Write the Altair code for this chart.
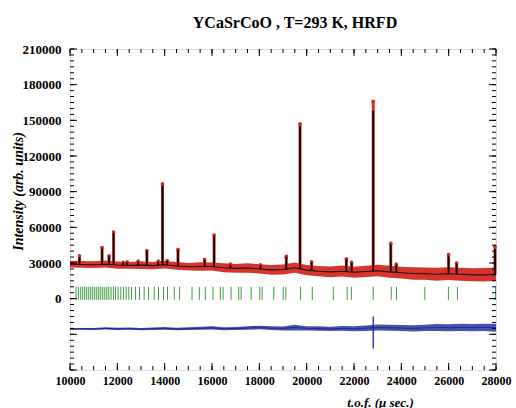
import altair as alt
import pandas as pd

# ---------------- data ----------------
bg_t = [10000, 10500, 11000, 11500, 12000, 12500, 13000, 13500, 14000, 14500,
        15000, 15500, 16000, 16500, 17000, 17500, 18000, 18500, 19000, 19500,
        20000, 20500, 21000, 21500, 22000, 22500, 23000, 23500, 24000, 24500,
        25000, 25500, 26000, 26500, 27000, 27500, 28000]
bg_calc = [29000, 28800, 28500, 29000, 28300, 28000, 28200, 27800, 28500, 27500,
           26800, 27000, 27000, 26000, 25500, 25800, 25000, 24200, 24500, 26000,
           24000, 23000, 22500, 23000, 22200, 22800, 23500, 22500, 21800, 21200,
           21000, 20500, 21000, 20500, 20000, 20000, 20500]
obs_lo = [26300, 25900, 25800, 26200, 25200, 25100, 25000, 24800, 25300, 24300,
          23600, 23500, 23600, 22300, 21900, 21800, 21200, 20200, 20400, 21800,
          19800, 18800, 18000, 18600, 17500, 18200, 18800, 17500, 16900, 16000,
          15900, 15100, 15800, 15000, 14700, 14400, 15000]
obs_hi = [31900, 31600, 31400, 32100, 31300, 30900, 31400, 30800, 31800, 30900,
          30100, 30600, 30400, 29700, 29200, 29800, 28900, 28300, 28700, 30400,
          28400, 27400, 27100, 27800, 26900, 27600, 28500, 27600, 26800, 26400,
          26300, 25900, 26500, 26000, 25500, 25700, 26200]

peak_t = [10400, 11355, 11650, 11842, 12245, 12414, 12880, 13249, 13727, 13909,
          14108, 14562, 15688, 16090, 16777, 18047, 19140, 19720, 20207, 21677,
          21901, 22813, 23553, 23786, 25997, 26336, 27958]
peak_obs = [36000, 43000, 36000, 56000, 30500, 31000, 31500, 40500, 31500, 96500,
            32000, 41500, 33000, 53500, 29000, 28500, 35500, 147000, 31000, 33500,
            30500, 166000, 46500, 29000, 37000, 30000, 44000]
peak_calc = [35000, 42000, 35500, 55000, 30500, 30500, 31000, 40000, 31000, 95000,
             31500, 41000, 32500, 52500, 28500, 28000, 35000, 145000, 30500, 33000,
             30000, 158000, 45500, 28500, 36000, 29500, 42000]
peak_base = [28900, 29000, 28800, 28600, 28200, 28000, 28100, 28000, 28100, 28200,
             28300, 27700, 27000, 27000, 25800, 25000, 24400, 25400, 23500, 22800,
             22500, 22600, 22800, 22200, 21000, 20800, 20300]

refl_t = [10254, 10352, 10453, 10538, 10623, 10707, 10792, 10877, 10962, 11046,
          11131, 11216, 11300, 11385, 11470, 11554, 11639, 11737, 11834, 11919,
          12033, 12147, 12258, 12372, 12486, 12596, 12766, 12935, 13134, 13316,
          13558, 13740, 13952, 14121, 14405, 14629, 15155, 15464, 15718, 16044,
          16353, 16468, 16806, 17128, 17230, 17654, 18018, 18120, 18611, 19009,
          19119, 19742, 20237, 21127, 21711, 21889, 22813, 23575, 23795, 24994,
          25989, 26370, 27980]

diff_mid = [-25500, -25300, -25500, -25000, -25400, -25200, -25600, -25300, -25000, -25400,
            -25200, -25000, -24600, -25300, -25000, -24700, -24300, -24800, -25000, -24200,
            -25000, -25200, -25400, -25000, -25300, -24800, -24300, -24500, -24700, -25000,
            -24600, -24300, -24500, -24200, -24400, -24000, -24500]
diff_lo = [-26300, -26100, -26400, -26000, -26300, -26200, -26600, -26300, -26200, -26500,
           -26400, -26200, -25900, -26600, -26300, -26100, -25800, -26400, -26700, -26800,
           -26800, -27000, -27100, -27000, -27400, -27300, -26700, -27000, -27200, -27600,
           -27300, -27100, -27400, -27100, -27500, -27200, -27800]
diff_hi = [-24800, -24600, -24700, -24100, -24500, -24300, -24600, -24200, -23800, -24400,
           -24100, -23700, -23200, -24100, -23800, -23300, -22700, -23200, -23400, -22000,
           -23200, -23300, -23600, -23000, -23200, -22500, -21800, -22000, -22200, -22400,
           -21900, -21400, -21600, -21200, -21400, -21000, -21200]
spike_t = [22813]
spike_lo = [-42000]
spike_hi = [-15000]

x_labels = [10000, 12000, 14000, 16000, 18000, 20000, 22000, 24000, 26000, 28000]
x_minor = list(range(10000, 28001, 500))
y_labels = [0, 30000, 60000, 90000, 120000, 150000, 180000, 210000]
y_major = list(range(-60000, 210001, 30000))
y_minor = list(range(-60000, 210001, 5000))

# ---------------- chart ----------------
W, H = 426, 321
FONT = "Liberation Serif"
RED = "#d42a22"
BLUE = "#1c2896"
GREEN = "#3f9a3f"

x_scale = alt.Scale(domain=[10000, 28000], nice=False, zero=False)
y_scale = alt.Scale(domain=[-60000, 210000], nice=False, zero=False)

x_axis = alt.Axis(values=x_labels, format="d", ticks=False, domain=False, grid=False,
                  labelFont=FONT, labelFontSize=12, labelFontWeight="bold",
                  labelColor="black", labelPadding=5, labelOverlap=False,
                  labelBound=False, labelFlush=False,
                  title="t.o.f. (\u03bc sec.)", titleFont=FONT, titleFontSize=13,
                  titleFontStyle="italic", titleFontWeight="bold", titleColor="black",
                  titleX=310, titleY=36, titleAlign="center", titleBaseline="alphabetic")
y_axis = alt.Axis(values=y_labels, format="d", ticks=False, domain=False, grid=False,
                  labelFont=FONT, labelFontSize=13, labelFontWeight="bold",
                  labelColor="black", labelPadding=9, labelOverlap=False,
                  title="Intensity (arb. units)", titleFont=FONT, titleFontSize=14,
                  titleFontStyle="italic", titleFontWeight="bold", titleColor="black",
                  titleX=-52, titleY=142, titleAngle=270, titleAlign="center",
                  titleBaseline="middle")

X = lambda f: alt.X(f, type="quantitative", scale=x_scale, axis=x_axis)
Y = lambda f: alt.Y(f, type="quantitative", scale=y_scale, axis=y_axis)

df_bg = pd.DataFrame({"t": bg_t, "calc": bg_calc, "lo": obs_lo, "hi": obs_hi,
                      "dmid": diff_mid, "dlo": diff_lo, "dhi": diff_hi})
df_pk = pd.DataFrame({"t": peak_t, "obs": peak_obs, "calc": peak_calc, "base": peak_base})
df_refl = pd.DataFrame({"t": refl_t})
df_spike = pd.DataFrame({"t": spike_t, "lo": spike_lo, "hi": spike_hi})

obs_band = alt.Chart(df_bg).mark_area(color=RED, opacity=0.95).encode(
    x=X("t"), y=Y("lo"), y2="hi")
obs_peaks = alt.Chart(df_pk).mark_rule(color=RED, strokeWidth=3).encode(
    x=X("t"), y=Y("base"), y2="obs")
obs_tops = alt.Chart(df_pk).mark_circle(color=RED, size=14, opacity=1).encode(
    x=X("t"), y=Y("obs"))
calc_line = alt.Chart(df_bg).mark_line(color="#2a0a0a", strokeWidth=1.1).encode(
    x=X("t"), y=Y("calc"))
calc_peaks = alt.Chart(df_pk).mark_rule(color="black", strokeWidth=1.7).encode(
    x=X("t"), y=Y("base"), y2="calc")
refl = alt.Chart(df_refl).mark_rule(color=GREEN, strokeWidth=1).encode(
    x=X("t"), y=alt.YDatum(-1000, scale=y_scale, axis=y_axis), y2=alt.datum(10000))
diff_band = alt.Chart(df_bg).mark_area(color=BLUE, opacity=0.8).encode(
    x=X("t"), y=Y("dlo"), y2="dhi")
diff_line = alt.Chart(df_bg).mark_line(color=BLUE, strokeWidth=1).encode(
    x=X("t"), y=Y("dmid"))
diff_spike = alt.Chart(df_spike).mark_rule(color=BLUE, strokeWidth=1.3).encode(
    x=X("t"), y=Y("lo"), y2="hi")


def ytick(vals, length, side):
    d = pd.DataFrame({"v": vals})
    x0 = 0 if side == "left" else W
    x1 = length if side == "left" else W - length
    return alt.Chart(d).mark_rule(color="black", strokeWidth=1).encode(
        y=Y("v"), x=alt.value(x0), x2=alt.value(x1))


def xtick(vals, length, side):
    d = pd.DataFrame({"v": vals})
    y0 = H if side == "bottom" else 0
    y1 = H - length if side == "bottom" else length
    return alt.Chart(d).mark_rule(color="black", strokeWidth=1).encode(
        x=X("v"), y=alt.value(y0), y2=alt.value(y1))


ticks = [ytick(y_minor, 4, "left"), ytick(y_major, 7, "left"),
         ytick(y_minor, 4, "right"), ytick(y_major, 7, "right"),
         xtick(x_minor, 4, "bottom"), xtick(x_labels, 7, "bottom"),
         xtick(x_minor, 4, "top"), xtick(x_labels, 7, "top")]

chart = alt.layer(
    obs_band, obs_peaks, obs_tops, calc_line, calc_peaks, refl,
    diff_band, diff_line, diff_spike, *ticks
).properties(
    width=W, height=H,
    title=alt.TitleParams("YCaSrCoO , T=293 K, HRFD", font=FONT, fontSize=16,
                          fontWeight="bold", color="black", anchor="middle",
                          dx=12, offset=12),
    autosize=alt.AutoSizeParams(type="none"),
    padding={"left": 70, "top": 49, "right": 20, "bottom": 38},
).configure_view(stroke="black", strokeWidth=1.5).configure(background="white")

chart.save("out.html", embed_options={"renderer": "svg", "actions": False})
